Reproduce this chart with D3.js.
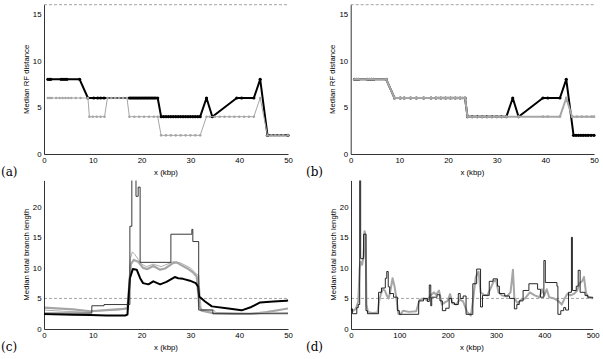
<!DOCTYPE html>
<html>
<head>
<meta charset="utf-8">
<script src="https://cdn.jsdelivr.net/npm/d3@7"></script>
<style>
  body { margin: 0; background: #fff; }
  .lab { font-family: "Liberation Sans", Arial, sans-serif; font-size: 7.8px; fill: #000; }
  .tag { font-family: "DejaVu Serif", serif; font-size: 12px; fill: #000; }
</style>
</head>
<body>
<div id="chart"></div>
<script>
// ---- tick labels
const rfXTicks = [0, 10, 20, 30, 40, 50];
const rfYTicks = [0, 5, 10, 15];
const lenXTicksC = [0, 10, 20, 30, 40, 50];
const lenXTicksD = [0, 100, 200, 300, 400, 500];
const lenYTicks = [0, 5, 10, 15, 20];

// ---- (a) median RF distance, 50 kbp
const aBlackX = [0.8,1.1,1.4,3.5,3.9,4.3,4.7,7.3,
  9.0,10.2,11.0,11.6,12.3,
  17.5,17.8,18.1,18.4,18.7,19.0,19.3,19.6,19.9,20.2,20.5,20.8,21.1,21.4,21.7,22.0,22.3,22.6,22.9,23.3,
  24.0,24.5,25.0,25.5,26.0,26.5,27.0,27.5,28.0,28.5,29.0,29.5,30.0,30.5,31.0,31.5,32.0,
  33.3,34.5,39.5,40.5,43.0,44.3,45.8,50.0];
const aBlackY = [8,8,8,8,8,8,8,8,
  6,6,6,6,6,
  6,6,6,6,6,6,6,6,6,6,6,6,6,6,6,6,6,6,6,6,
  4,4,4,4,4,4,4,4,4,4,4,4,4,4,4,4,4,
  6,4,6,6,6,8,2,2];
const aGrayX = [0.8,1.2,1.6,2.5,3.2,3.8,4.4,5.0,5.6,6.5,7.5,9.0,
  9.3,10.0,10.8,11.6,12.4,
  13.0,13.8,14.6,15.4,16.2,17.0,
  17.5,18.5,19.5,20.5,21.5,22.5,23.3,
  24,25,26,27,28,29,30,31,32,
  33.3,34,35,36,37,38,39,40,41,42,43,
  44.3,
  45.8,46.6,47.4,48.2,49.0,50.0];
const aGrayY = [6,6,6,6,6,6,6,6,6,6,6,6,
  4,4,4,4,4,
  6,6,6,6,6,6,
  4,4,4,4,4,4,4,
  2,2,2,2,2,2,2,2,2,
  4,4,4,4,4,4,4,4,4,4,4,
  6,
  2,2,2,2,2,2];

// ---- (b) median RF distance, 50 kbp
const bBlackX = [0.8,1.2,1.6,3.5,3.9,4.3,4.7,7.3,
  9.0,10.2,11.0,12.3,13.5,15.0,16.5,17.5,18.5,19.5,20.5,21.5,22.5,23.5,
  24,25,26,27,28,29,30,31,32,
  33.3,34.5,39.5,40.5,43.0,44.3,
  45.8,46.3,46.8,47.3,47.8,48.3,48.8,49.4,50.0];
const bBlackY = [8,8,8,8,8,8,8,8,
  6,6,6,6,6,6,6,6,6,6,6,6,6,6,
  4,4,4,4,4,4,4,4,4,
  6,4,6,6,6,8,
  2,2,2,2,2,2,2,2,2];
const bGrayX = [0.8,1.2,1.6,3.5,3.9,4.3,4.7,7.3,
  9.0,10.2,11.0,12.3,13.5,15.0,16.5,17.5,18.0,18.5,19.0,19.5,20.0,20.5,21.0,21.5,22.0,22.5,23.0,23.5,
  24.0,24.6,25.2,25.8,26.4,27.0,27.6,28.2,28.8,29.4,30.0,30.6,31.2,32.0,34.5,39.5,40.5,43.0,
  44.3,
  45.5,46.5,47.5,48.5,49.5,50.0];
const bGrayY = [8,8,8,8,8,8,8,8,
  6,6,6,6,6,6,6,6,6,6,6,6,6,6,6,6,6,6,6,6,
  4,4,4,4,4,4,4,4,4,4,4,4,4,4,4,4,4,4,
  6,
  4,4,4,4,4,4];

// ---- (c) median total branch length, 50 kbp
const cStepX = [0, 9.8, 12.3, 17.6, 18.0, 18.85, 19.3, 19.7, 26.0, 30.3, 30.5, 31.7, 34.6, 50];
const cStepY = [2.6, 3.8, 4.0, 16.8, 24.6, 21.7, 23.2, 10.9, 15.5, 16.3, 14.3, 3.1, 2.5, 2.5];
const cBlackX = [0, 6, 9.5, 12.8, 16.6, 17.1, 17.6, 18.2, 19.0, 19.7, 20.3, 21.4, 22.4, 23.8, 25.1, 26.8,
  27.5, 28.5, 29.9, 31.1, 31.6, 31.8, 33.0, 34.4, 37.4, 40.5, 42.5, 44.3, 47.0, 49.7, 50];
const cBlackY = [2.45, 2.35, 2.3, 2.2, 2.2, 2.35, 8.3, 9.8, 9.7, 8.3, 7.5, 7.3, 7.8, 7.3, 7.7, 8.5,
  8.3, 8.2, 7.9, 7.5, 6.9, 5.3, 4.5, 3.7, 3.4, 3.05, 3.6, 4.35, 4.5, 4.6, 4.7];
const cGrayX = [0, 6, 9.5, 12.8, 16.3, 17.1, 17.8, 18.4, 19.3, 20.3, 21.2, 22.4, 23.8, 24.8, 26.5,
  27.2, 28.2, 29.6, 30.6, 31.3, 31.8, 32.3, 34.7, 38.8, 42.2, 45.6, 50];
const cGrayY = [3.5, 3.2, 2.9, 3.1, 3.3, 3.4, 10.6, 11.3, 11.0, 10.0, 9.8, 10.3, 9.7, 9.9, 10.8,
  10.9, 10.4, 9.8, 9.2, 8.6, 3.8, 3.0, 2.6, 2.45, 2.45, 2.75, 3.35];
const cThinGrayX = [0, 4, 9.6, 9.9, 15, 17.2, 17.7, 18.1, 18.6, 19.3, 20.0, 21.0, 22.4, 24.0, 26.5,
  28.0, 30.0, 31.2, 31.7, 32.2, 34.8, 35.2, 42, 50];
const cThinGrayY = [3.1, 2.9, 2.75, 2.95, 3.1, 3.3, 11.5, 12.6, 12.2, 11.4, 10.6, 10.2, 10.6, 10.2, 11.0,
  10.8, 10.0, 9.0, 8.8, 3.2, 3.1, 2.7, 2.6, 2.7];

// ---- (d) median total branch length, 500 kbp
const dStepX = [0,3,12,15,18,20,26,31,34,57,63,71,74,77,80,88,96,100,140,150,158,162,165,167,178,184,189,
  196,203,208,214,222,226,232,238,252,260,268,272,286,294,303,307,318,328,338,343,348,356,368,386,392,
  399,402,426,428,434,440,444,450,456,458,466,470,474,484,490,500];
const dStepY = [3.3,2.5,3.5,4.0,24.6,11.5,15.5,3.0,2.5,6.0,6.7,8.3,9.4,6.9,5.8,5.2,3.0,2.4,4.6,5.0,4.5,7.2,3.8,5.2,5.6,4.6,3.0,
  3.4,5.0,4.3,4.0,5.8,5.0,5.4,2.4,7.4,9.8,3.6,5.5,7.8,8.2,7.0,5.8,5.4,5.0,3.3,4.0,4.6,6.3,7.4,6.5,5.2,
  11.2,7.6,7.0,2.4,3.0,3.5,3.1,6.0,15.0,6.3,7.0,9.6,6.0,5.5,5.2,5.0];
const dGrayX = [0,5,10,15,18,20,23,26,28,30,32,35,45,55,58,62,66,70,74,78,82,86,90,94,98,102,108,120,135,
  142,150,158,165,172,176,182,188,195,200,205,210,218,225,232,240,248,253,258,264,268,275,282,288,295,
  300,305,312,322,330,335,338,345,352,360,370,380,390,395,400,405,410,420,430,436,442,448,454,462,468,
  473,478,482,486,490,495,500];
const dGrayY = [3.2,3.0,3.3,4.5,10.0,11.0,10.5,12.0,16.0,15.5,4.0,2.8,2.6,2.7,4.5,5.8,6.5,6.3,5.5,5.0,6.5,8.3,7.0,5.0,2.5,2.4,3.0,2.8,2.9,
  4.8,5.0,4.7,5.5,6.0,5.6,6.3,4.0,4.4,4.6,5.7,4.2,4.0,4.8,4.5,2.8,2.2,5.0,8.5,9.4,6.0,5.6,5.5,6.5,7.8,
  8.0,6.0,5.5,5.3,6.0,9.7,5.0,4.2,4.8,5.0,6.0,5.5,5.2,6.5,5.5,6.5,5.2,5.0,4.5,4.0,5.0,5.8,5.5,5.8,6.3,
  7.5,7.8,8.5,6.0,5.2,5.1,5.0];

const GRAY = "#a6a6a6";
const FONT = "Liberation Sans, Arial, sans-serif";

const svg = d3.select("#chart")
  .append("svg")
  .attr("width", 603)
  .attr("height", 359)
  .style("background", "#fff");

const zip = (xs, ys) => xs.map((v, i) => [v, ys[i]]);

// sets up one panel: axes, labels, dashed reference line, clipped plot group
function panel(p) {
  const x = d3.scaleLinear().domain(p.xdom).range([p.left, p.right]);
  const y = d3.scaleLinear().domain(p.ydom).range([p.bottom, p.top]);

  svg.append("clipPath").attr("id", p.id)
    .append("rect")
    .attr("x", p.left - 3).attr("y", p.top)
    .attr("width", p.right - p.left + 6).attr("height", p.bottom - p.top + 3);

  // dashed reference line
  svg.append("line")
    .attr("x1", p.left).attr("x2", p.right)
    .attr("y1", y(p.dash)).attr("y2", y(p.dash))
    .attr("stroke", "#666").attr("stroke-width", 0.6)
    .attr("stroke-dasharray", "3,2");

  const plot = svg.append("g").attr("clip-path", `url(#${p.id})`);

  const xa = svg.append("g")
    .attr("transform", `translate(0,${p.bottom})`)
    .call(d3.axisBottom(x).tickValues(p.xticks).tickSize(0).tickSizeOuter(0).tickPadding(3.5));
  const ya = svg.append("g")
    .attr("transform", `translate(${p.left},0)`)
    .call(d3.axisLeft(y).tickValues(p.yticks).tickSize(0).tickSizeOuter(0).tickPadding(2.5));
  [xa, ya].forEach(a => {
    a.attr("font-family", FONT).attr("font-size", 7.8);
    a.select(".domain").attr("stroke", "#000").attr("stroke-width", 0.8);
  });

  svg.append("text").attr("class", "lab")
    .attr("x", (p.left + p.right) / 2).attr("y", p.bottom + 20.5)
    .attr("text-anchor", "middle").text("x (kbp)");
  svg.append("text").attr("class", "lab")
    .attr("transform", `translate(${p.left - 15.5},${(p.top + p.bottom) / 2}) rotate(-90)`)
    .attr("text-anchor", "middle").text(p.ylabel);
  svg.append("text").attr("class", "tag")
    .attr("x", p.tagX).attr("y", p.bottom + 22)
    .text(p.tag);

  return { x, y, plot };
}

function drawLine(P, xs, ys, color, width, curve) {
  const line = d3.line().x(d => P.x(d[0])).y(d => P.y(d[1])).curve(curve || d3.curveLinear);
  P.plot.append("path")
    .datum(zip(xs, ys))
    .attr("fill", "none")
    .attr("stroke", color)
    .attr("stroke-width", width)
    .attr("stroke-linejoin", "round")
    .attr("d", line);
}

function drawDots(P, xs, ys, color, r) {
  P.plot.selectAll(null)
    .data(zip(xs, ys))
    .join("circle")
    .attr("cx", d => P.x(d[0]))
    .attr("cy", d => P.y(d[1]))
    .attr("r", r)
    .attr("fill", color);
}

// (a)
const A = panel({ id: "ca", left: 44, right: 288, top: 4.7, bottom: 154, xdom: [0, 50], ydom: [0, 16],
  xticks: rfXTicks, yticks: rfYTicks, dash: 16, ylabel: "Median RF distance", tag: "(a)", tagX: 1 });
drawLine(A, aBlackX, aBlackY, "#000", 2);
drawDots(A, aBlackX, aBlackY, "#000", 1.6);
drawLine(A, aGrayX, aGrayY, GRAY, 1);
drawDots(A, aGrayX, aGrayY, GRAY, 1.3);

// (b)
const B = panel({ id: "cb", left: 350.7, right: 594, top: 4.7, bottom: 154, xdom: [0, 50], ydom: [0, 16],
  xticks: rfXTicks, yticks: rfYTicks, dash: 16, ylabel: "Median RF distance", tag: "(b)", tagX: 306 });
drawLine(B, bBlackX, bBlackY, "#000", 2);
drawDots(B, bBlackX, bBlackY, "#000", 1.6);
drawLine(B, bGrayX, bGrayY, GRAY, 2);
drawDots(B, bGrayX, bGrayY, GRAY, 1.4);

// (c)
const C = panel({ id: "cc", left: 44, right: 288, top: 180.4, bottom: 329, xdom: [0, 50], ydom: [0, 24.3],
  xticks: lenXTicksC, yticks: lenYTicks, dash: 5, ylabel: "Median total branch length", tag: "(c)", tagX: 1 });
drawLine(C, cThinGrayX, cThinGrayY, "#999", 0.8);
drawLine(C, cGrayX, cGrayY, GRAY, 2.2);
drawLine(C, cBlackX, cBlackY, "#000", 2);
drawLine(C, cStepX, cStepY, "#222", 0.9, d3.curveStepAfter);

// (d)
const D = panel({ id: "cd", left: 351, right: 592.7, top: 180.4, bottom: 329, xdom: [0, 500], ydom: [0, 24.3],
  xticks: lenXTicksD, yticks: lenYTicks, dash: 5, ylabel: "Median total branch length", tag: "(d)", tagX: 306 });
drawLine(D, dGrayX, dGrayY, GRAY, 2);
drawLine(D, dStepX, dStepY, "#111", 0.9, d3.curveStepAfter);
</script>
</body>
</html>
